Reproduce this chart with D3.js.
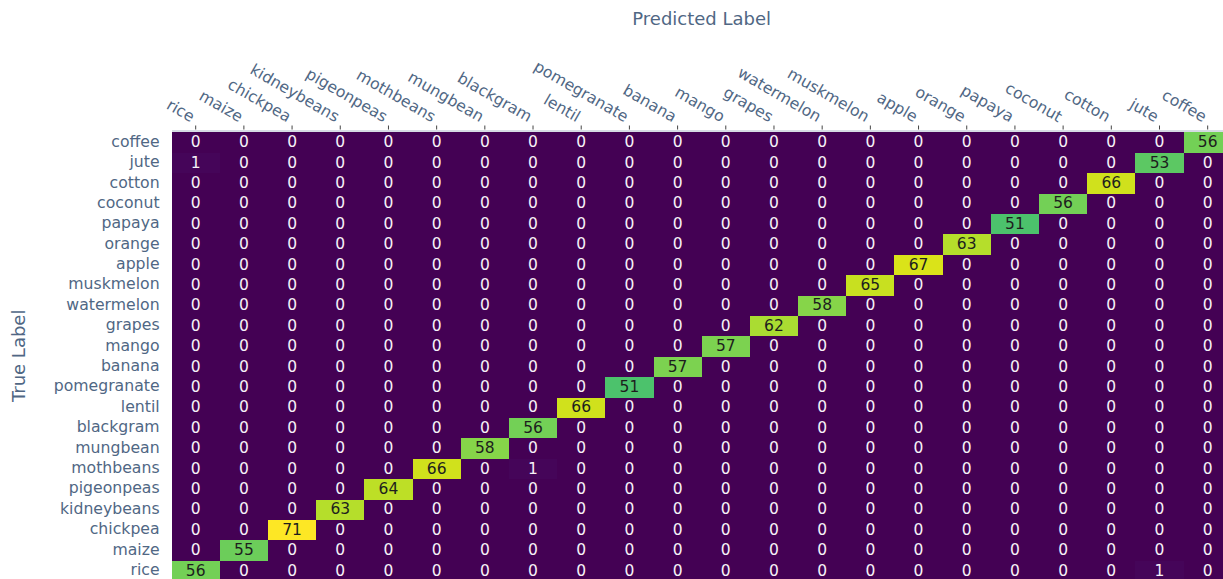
<!DOCTYPE html>
<html>
<head>
<meta charset="utf-8">
<script src="https://cdn.jsdelivr.net/npm/d3@7"></script>
<style>
  html, body { margin: 0; padding: 0; background: #fff; overflow: hidden; }
  svg { display: block; font-family: "DejaVu Sans", Verdana, sans-serif; }
</style>
</head>
<body>
<svg id="chart" width="1223" height="579"></svg>
<script>
// Crop classes, in the order used by both axes
const categories = ["rice", "maize", "chickpea", "kidneybeans", "pigeonpeas", "mothbeans",
  "mungbean", "blackgram", "lentil", "pomegranate", "banana", "mango", "grapes",
  "watermelon", "muskmelon", "apple", "orange", "papaya", "coconut", "cotton", "jute", "coffee"];

// Correctly classified samples per class (diagonal of the matrix)
const correct = [56, 55, 71, 63, 64, 66, 58, 56, 66, 51, 57, 57, 62, 58, 65, 67, 63, 51, 56, 66, 53, 56];

// Misclassifications: [true label, predicted label, count]
const misses = [
  ["jute", "rice", 1],
  ["mothbeans", "blackgram", 1],
  ["rice", "jute", 1]
];

const xTitle = "Predicted Label";
const yTitle = "True Label";

// Build the full confusion table
const cells = [];
categories.forEach((t, i) => {
  categories.forEach((p, j) => {
    cells.push({ truth: t, pred: p, value: i === j ? correct[i] : 0 });
  });
});
misses.forEach(([t, p, v]) => {
  const c = cells.find(d => d.truth === t && d.pred === p);
  c.value = v;
});

const svg = d3.select("#chart");
const plotLeft = 171.6, plotTop = 131.5;
const cellW = 48.19, cellH = 20.395;

const x = d3.scaleBand().domain(categories)
  .range([plotLeft, plotLeft + cellW * categories.length]).padding(0);
const y = d3.scaleBand().domain(categories.slice().reverse())
  .range([plotTop, plotTop + cellH * categories.length]).padding(0);

const zMax = d3.max(cells, d => d.value);
const color = d3.scaleSequential(d3.interpolateViridis).domain([0, zMax]);

// Heatmap cells
svg.append("g")
  .attr("shape-rendering", "crispEdges")
  .selectAll("rect").data(cells).join("rect")
  .attr("x", d => x(d.pred))
  .attr("y", d => y(d.truth))
  .attr("width", x.bandwidth() + 1)
  .attr("height", y.bandwidth() + 1)
  .attr("fill", d => color(d.value));

// Cell annotations
svg.append("g").selectAll("text").data(cells).join("text")
  .attr("x", d => x(d.pred) + x.bandwidth() / 2)
  .attr("y", d => y(d.truth) + y.bandwidth() / 2)
  .attr("dy", "0.36em")
  .attr("text-anchor", "middle")
  .attr("font-size", 15.5)
  .attr("fill", d => d.value / zMax > 0.5 ? "#1e1e1e" : "#f7f2f8")
  .text(d => d.value);

const tickColor = "#506784";

// Top axis (predicted label)
const xAxis = svg.append("g")
  .attr("transform", `translate(0,${plotTop - 1})`)
  .call(d3.axisTop(x).tickSize(4).tickSizeOuter(0));
xAxis.select(".domain").attr("stroke", "#d6dbe4").attr("stroke-width", 2);
xAxis.selectAll(".tick line").attr("stroke", "#444").attr("transform", "translate(0,-1)");
xAxis.selectAll(".tick text")
  .attr("x", 0).attr("y", 0).attr("dy", 0)
  .attr("text-anchor", "end")
  .attr("transform", "translate(-5,-8) rotate(30)")
  .attr("font-size", 15.7)
  .attr("font-family", "DejaVu Sans, Verdana, sans-serif")
  .attr("fill", tickColor);

// Left axis (true label)
const yAxis = svg.append("g")
  .attr("transform", `translate(${plotLeft},0)`)
  .call(d3.axisLeft(y).tickSize(0).tickPadding(12));
yAxis.select(".domain").remove();
yAxis.selectAll(".tick text")
  .attr("font-size", 15.7)
  .attr("font-family", "DejaVu Sans, Verdana, sans-serif")
  .attr("fill", tickColor);

// Axis titles
svg.append("text")
  .attr("x", plotLeft + cellW * categories.length / 2)
  .attr("y", 25)
  .attr("text-anchor", "middle")
  .attr("font-size", 18)
  .attr("fill", tickColor)
  .text(xTitle);

svg.append("text")
  .attr("transform", `translate(25,${plotTop + cellH * categories.length / 2}) rotate(-90)`)
  .attr("text-anchor", "middle")
  .attr("font-size", 18)
  .attr("fill", tickColor)
  .text(yTitle);
</script>
</body>
</html>
